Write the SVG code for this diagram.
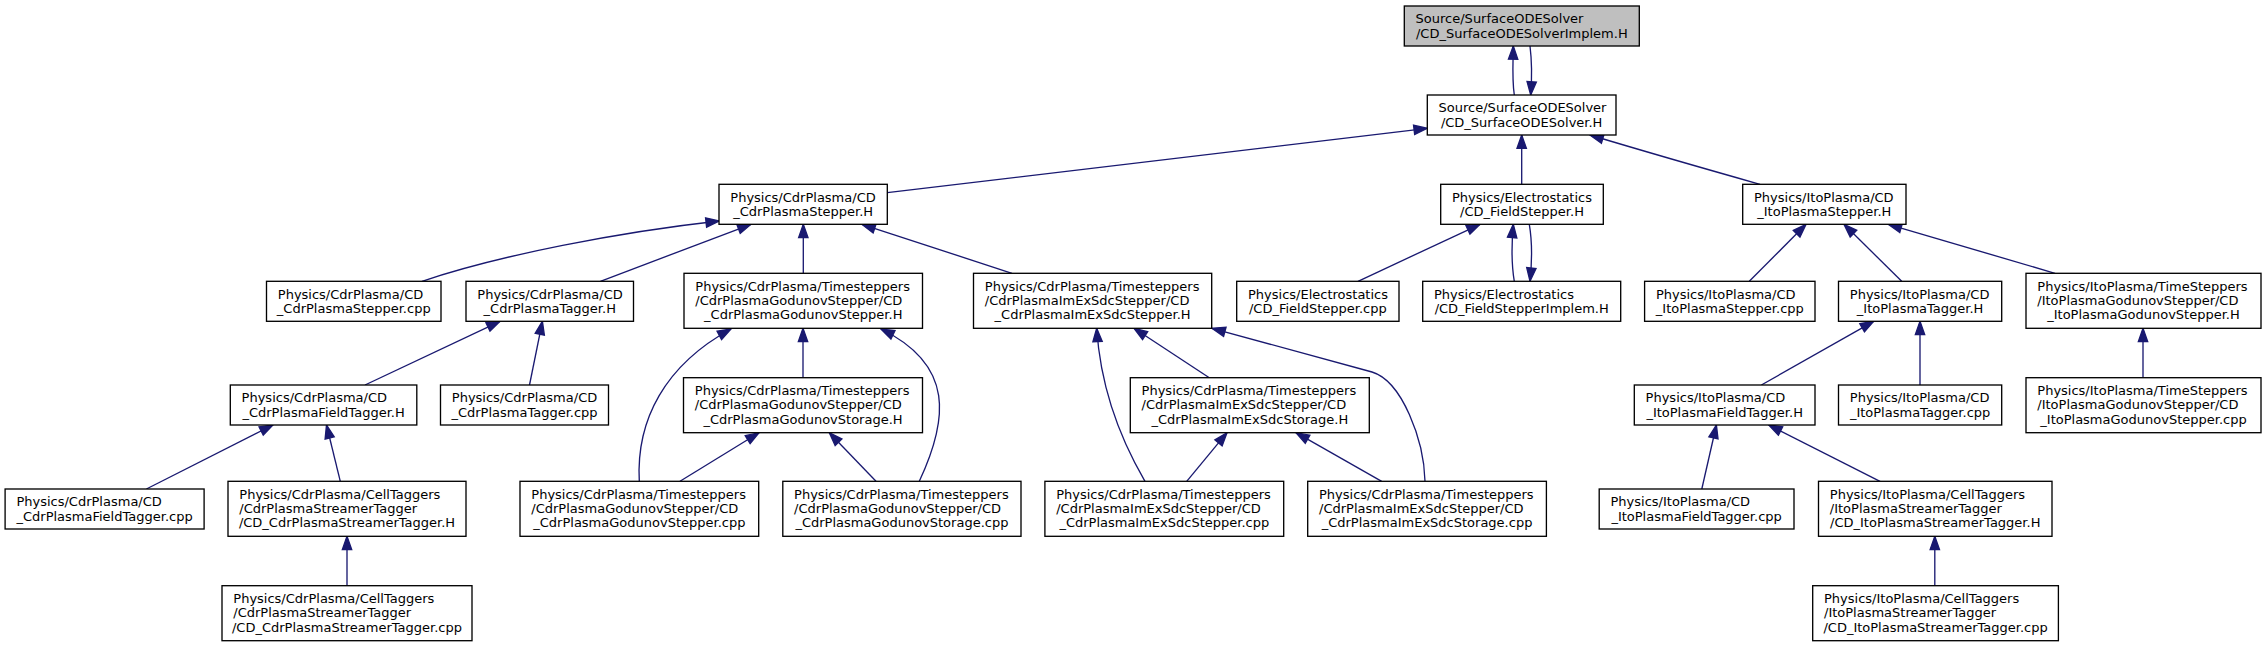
<svg xmlns="http://www.w3.org/2000/svg" width="2266" height="647" viewBox="0 0 2266 647">
<style>
.node rect{fill:#ffffff;stroke:#000000;stroke-width:1.33}
.node rect.root{fill:#bfbfbf}
text{font-family:"DejaVu Sans","Liberation Sans",sans-serif;font-size:13px;fill:#000000}
text.m{text-anchor:middle}
.edges path{fill:none;stroke:#191970;stroke-width:1.33;marker-end:url(#ah)}
</style>
<defs>
<marker id="ah" markerUnits="userSpaceOnUse" markerWidth="16" markerHeight="12" refX="13.3" refY="4.7" orient="auto" overflow="visible">
<path d="M0,0 L13.3,4.7 L0,9.4 Z" fill="#191970" stroke="#191970" stroke-width="1.33"/>
</marker>
</defs>
<rect x="0" y="0" width="2266" height="647" fill="#ffffff"/>
<g class="edges" id="edges">
<path d="M1514.3,95 C1512,80 1513,65 1513.3,46"/>
<path d="M1530,46 C1532,62 1532,78 1530.7,95"/>
<path d="M887.3,192.7 L1427.3,128.3"/>
<path d="M1521.7,184.3 L1521.7,135"/>
<path d="M1760,184.3 C1720,173 1660,156 1590,135"/>
<path d="M422,281.3 C500,255 620,232 719.3,221"/>
<path d="M600.4,281.3 L751,224.3"/>
<path d="M803.3,273.3 L803.3,224.3"/>
<path d="M1012,273.3 L862,224.3"/>
<path d="M1358,281.3 L1480,224.3"/>
<path d="M1514.3,281.3 C1511.5,265 1511.5,245 1513.3,224.3"/>
<path d="M1529.3,224.3 C1532,240 1532,262 1530,281.3"/>
<path d="M1749.3,281.3 L1806,224.3"/>
<path d="M1901.7,281.3 L1844,224.3"/>
<path d="M2055,273.3 L1888.3,224.3"/>
<path d="M365,385 L500,321.3"/>
<path d="M529.5,385 L542.4,321.3"/>
<path d="M639.3,481.3 C636,420 665,365 731,329"/>
<path d="M803,377.7 L803,328.3"/>
<path d="M919.3,481.3 C948,420 955,365 881,329"/>
<path d="M1145,481.3 C1115,430 1100,380 1096.7,328.3"/>
<path d="M1209.3,377.7 L1134,328.3"/>
<path d="M1425,481.3 C1424,440 1402,381 1372,372 L1212,328.3"/>
<path d="M146.4,489 L273,425"/>
<path d="M340.3,481.3 L326.5,425"/>
<path d="M347,585.7 L347,536.3"/>
<path d="M680,481.3 L759,432.7"/>
<path d="M876,481.3 L829.3,432.7"/>
<path d="M1186.7,481.3 L1227,432.7"/>
<path d="M1381.7,481.3 L1296,432.7"/>
<path d="M1761.4,385 L1873.7,321.3"/>
<path d="M1920,385 L1920,321.3"/>
<path d="M2143,377.7 L2143,328.3"/>
<path d="M1701.8,489 L1716.4,425"/>
<path d="M1880,481.3 L1768.7,425"/>
<path d="M1934.8,585.7 L1934.8,536.3"/>
</g>
<g class="node" id="n_implem_root"><rect class="root" x="1404.3" y="6" width="235" height="40"/><text x="1415.6" y="23.3">Source/SurfaceODESolver</text><text class="m" x="1521.8" y="37.7">/CD_SurfaceODESolverImplem.H</text></g>
<g class="node" id="n_solver_h"><rect x="1427.3" y="95" width="188.7" height="40"/><text x="1438.6" y="112.3">Source/SurfaceODESolver</text><text class="m" x="1521.65" y="126.7">/CD_SurfaceODESolver.H</text></g>
<g class="node" id="n_cdrstepper_h"><rect x="719" y="184.3" width="168.3" height="40"/><text x="730.3" y="201.6">Physics/CdrPlasma/CD</text><text class="m" x="803.15" y="216">_CdrPlasmaStepper.H</text></g>
<g class="node" id="n_fieldstepper_h"><rect x="1440.7" y="184.3" width="162.6" height="40"/><text x="1452" y="201.6">Physics/Electrostatics</text><text class="m" x="1522" y="216">/CD_FieldStepper.H</text></g>
<g class="node" id="n_itostepper_h"><rect x="1742.7" y="184.3" width="163.3" height="40"/><text x="1754" y="201.6">Physics/ItoPlasma/CD</text><text class="m" x="1824.35" y="216">_ItoPlasmaStepper.H</text></g>
<g class="node" id="n_cdrstepper_cpp"><rect x="266.5" y="281.3" width="174.5" height="40"/><text x="277.8" y="298.6">Physics/CdrPlasma/CD</text><text class="m" x="353.75" y="313">_CdrPlasmaStepper.cpp</text></g>
<g class="node" id="n_cdrtagger_h"><rect x="466" y="281.3" width="167.5" height="40"/><text x="477.3" y="298.6">Physics/CdrPlasma/CD</text><text class="m" x="549.75" y="313">_CdrPlasmaTagger.H</text></g>
<g class="node" id="n_godunovstepper_h"><rect x="684" y="273.3" width="238.5" height="55"/><text x="695.3" y="290.6">Physics/CdrPlasma/Timesteppers</text><text x="695.3" y="305">/CdrPlasmaGodunovStepper/CD</text><text class="m" x="803.25" y="319.3">_CdrPlasmaGodunovStepper.H</text></g>
<g class="node" id="n_imexsdcstepper_h"><rect x="973.5" y="273.3" width="238.2" height="55"/><text x="984.8" y="290.6">Physics/CdrPlasma/Timesteppers</text><text x="984.8" y="305">/CdrPlasmaImExSdcStepper/CD</text><text class="m" x="1092.6" y="319.3">_CdrPlasmaImExSdcStepper.H</text></g>
<g class="node" id="n_fieldstepper_cpp"><rect x="1236.7" y="281.3" width="162.3" height="40"/><text x="1248" y="298.6">Physics/Electrostatics</text><text class="m" x="1317.85" y="313">/CD_FieldStepper.cpp</text></g>
<g class="node" id="n_fieldstepperimplem_h"><rect x="1422.7" y="281.3" width="198" height="40"/><text x="1434" y="298.6">Physics/Electrostatics</text><text class="m" x="1521.7" y="313">/CD_FieldStepperImplem.H</text></g>
<g class="node" id="n_itostepper_cpp"><rect x="1644.6" y="281.3" width="170.4" height="40"/><text x="1655.9" y="298.6">Physics/ItoPlasma/CD</text><text class="m" x="1729.8" y="313">_ItoPlasmaStepper.cpp</text></g>
<g class="node" id="n_itotagger_h"><rect x="1838.5" y="281.3" width="163.2" height="40"/><text x="1849.8" y="298.6">Physics/ItoPlasma/CD</text><text class="m" x="1920.1" y="313">_ItoPlasmaTagger.H</text></g>
<g class="node" id="n_itogodunov_h"><rect x="2026" y="273.3" width="235" height="55"/><text x="2037.3" y="290.6">Physics/ItoPlasma/TimeSteppers</text><text x="2037.3" y="305">/ItoPlasmaGodunovStepper/CD</text><text class="m" x="2143.5" y="319.3">_ItoPlasmaGodunovStepper.H</text></g>
<g class="node" id="n_cdrfieldtagger_h"><rect x="230.3" y="385" width="186.5" height="40"/><text x="241.6" y="402.3">Physics/CdrPlasma/CD</text><text class="m" x="323.55" y="416.7">_CdrPlasmaFieldTagger.H</text></g>
<g class="node" id="n_cdrtagger_cpp"><rect x="440.5" y="385" width="168" height="40"/><text x="451.8" y="402.3">Physics/CdrPlasma/CD</text><text class="m" x="524.5" y="416.7">_CdrPlasmaTagger.cpp</text></g>
<g class="node" id="n_godunovstorage_h"><rect x="683.5" y="377.7" width="239" height="55"/><text x="694.8" y="395">Physics/CdrPlasma/Timesteppers</text><text x="694.8" y="409.4">/CdrPlasmaGodunovStepper/CD</text><text class="m" x="803" y="423.7">_CdrPlasmaGodunovStorage.H</text></g>
<g class="node" id="n_imexsdcstorage_h"><rect x="1130.3" y="377.7" width="239" height="55"/><text x="1141.6" y="395">Physics/CdrPlasma/Timesteppers</text><text x="1141.6" y="409.4">/CdrPlasmaImExSdcStepper/CD</text><text class="m" x="1249.8" y="423.7">_CdrPlasmaImExSdcStorage.H</text></g>
<g class="node" id="n_itofieldtagger_h"><rect x="1634.3" y="385" width="180.7" height="40"/><text x="1645.6" y="402.3">Physics/ItoPlasma/CD</text><text class="m" x="1724.65" y="416.7">_ItoPlasmaFieldTagger.H</text></g>
<g class="node" id="n_itotagger_cpp"><rect x="1838.5" y="385" width="163.2" height="40"/><text x="1849.8" y="402.3">Physics/ItoPlasma/CD</text><text class="m" x="1920.1" y="416.7">_ItoPlasmaTagger.cpp</text></g>
<g class="node" id="n_itogodunov_cpp"><rect x="2026" y="377.7" width="235" height="55"/><text x="2037.3" y="395">Physics/ItoPlasma/TimeSteppers</text><text x="2037.3" y="409.4">/ItoPlasmaGodunovStepper/CD</text><text class="m" x="2143.5" y="423.7">_ItoPlasmaGodunovStepper.cpp</text></g>
<g class="node" id="n_cdrfieldtagger_cpp"><rect x="5.1" y="489" width="199" height="40"/><text x="16.4" y="506.3">Physics/CdrPlasma/CD</text><text class="m" x="104.6" y="520.7">_CdrPlasmaFieldTagger.cpp</text></g>
<g class="node" id="n_cdrstreamertagger_h"><rect x="228" y="481.3" width="238" height="55"/><text x="239.3" y="498.6">Physics/CdrPlasma/CellTaggers</text><text x="239.3" y="513">/CdrPlasmaStreamerTagger</text><text class="m" x="347" y="527.3">/CD_CdrPlasmaStreamerTagger.H</text></g>
<g class="node" id="n_godunovstepper_cpp"><rect x="520" y="481.3" width="238.7" height="55"/><text x="531.3" y="498.6">Physics/CdrPlasma/Timesteppers</text><text x="531.3" y="513">/CdrPlasmaGodunovStepper/CD</text><text class="m" x="639.35" y="527.3">_CdrPlasmaGodunovStepper.cpp</text></g>
<g class="node" id="n_godunovstorage_cpp"><rect x="782.8" y="481.3" width="238.2" height="55"/><text x="794.1" y="498.6">Physics/CdrPlasma/Timesteppers</text><text x="794.1" y="513">/CdrPlasmaGodunovStepper/CD</text><text class="m" x="901.9" y="527.3">_CdrPlasmaGodunovStorage.cpp</text></g>
<g class="node" id="n_imexsdcstepper_cpp"><rect x="1044.9" y="481.3" width="238.8" height="55"/><text x="1056.2" y="498.6">Physics/CdrPlasma/Timesteppers</text><text x="1056.2" y="513">/CdrPlasmaImExSdcStepper/CD</text><text class="m" x="1164.3" y="527.3">_CdrPlasmaImExSdcStepper.cpp</text></g>
<g class="node" id="n_imexsdcstorage_cpp"><rect x="1307.7" y="481.3" width="238.7" height="55"/><text x="1319" y="498.6">Physics/CdrPlasma/Timesteppers</text><text x="1319" y="513">/CdrPlasmaImExSdcStepper/CD</text><text class="m" x="1427.05" y="527.3">_CdrPlasmaImExSdcStorage.cpp</text></g>
<g class="node" id="n_itofieldtagger_cpp"><rect x="1599.2" y="489" width="194.8" height="40"/><text x="1610.5" y="506.3">Physics/ItoPlasma/CD</text><text class="m" x="1696.6" y="520.7">_ItoPlasmaFieldTagger.cpp</text></g>
<g class="node" id="n_itostreamertagger_h"><rect x="1818.5" y="481.3" width="233.5" height="55"/><text x="1829.8" y="498.6">Physics/ItoPlasma/CellTaggers</text><text x="1829.8" y="513">/ItoPlasmaStreamerTagger</text><text class="m" x="1935.25" y="527.3">/CD_ItoPlasmaStreamerTagger.H</text></g>
<g class="node" id="n_cdrstreamertagger_cpp"><rect x="222" y="585.7" width="250" height="55"/><text x="233.3" y="603">Physics/CdrPlasma/CellTaggers</text><text x="233.3" y="617.4">/CdrPlasmaStreamerTagger</text><text class="m" x="347" y="631.7">/CD_CdrPlasmaStreamerTagger.cpp</text></g>
<g class="node" id="n_itostreamertagger_cpp"><rect x="1812.7" y="585.7" width="245.7" height="55"/><text x="1824" y="603">Physics/ItoPlasma/CellTaggers</text><text x="1824" y="617.4">/ItoPlasmaStreamerTagger</text><text class="m" x="1935.55" y="631.7">/CD_ItoPlasmaStreamerTagger.cpp</text></g>
</svg>
